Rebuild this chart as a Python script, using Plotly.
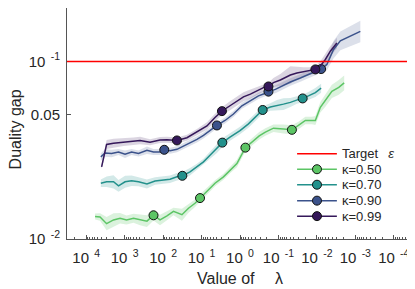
import numpy as np
import plotly.graph_objects as go

TARGET_EPS = 0.1
kappa_labels = ["κ=0.50", "κ=0.70", "κ=0.90", "κ=0.99"]
legend_labels = ["Target \u2002<i>ε</i>"] + kappa_labels
colors = ["#5cc565", "#23918c", "#3b528b", "#35185a"]
band_colors = ["rgba(92,197,101,0.22)", "rgba(35,145,140,0.20)",
               "rgba(59,82,139,0.18)", "rgba(53,24,90,0.18)"]

# log10(lambda), duality gap, band half-width (x/÷)
lam_exp_050 = [3.77, 3.64, 3.47, 3.29, 3.12, 2.95, 2.77, 2.60, 2.42, 2.25, 2.08, 1.90, 1.73,
               1.51, 1.34, 1.17, 1.04, 0.82, 0.65, 0.43, 0.26, 0.08, -0.14, -0.35, -0.50,
               -0.66, -0.87, -1.13, -1.35, -1.52, -1.70, -1.87, -1.96, -2.09, -2.22, -2.39,
               -2.57, -2.71]
gap_050 = [0.0134, 0.0133, 0.0122, 0.0128, 0.0131, 0.0128, 0.0131, 0.0128, 0.0126, 0.0136,
           0.0128, 0.0135, 0.0143, 0.0137, 0.0149, 0.0159, 0.0170, 0.0189, 0.0206, 0.0224,
           0.0244, 0.0266, 0.0327, 0.0359, 0.0381, 0.0400, 0.0421, 0.0417, 0.0412, 0.0436,
           0.0465, 0.0465, 0.0465, 0.0552, 0.0600, 0.0679, 0.0714, 0.0757]
spread_050 = [1.04, 1.05, 1.09, 1.09, 1.07, 1.06, 1.06, 1.07, 1.08, 1.07, 1.07, 1.06, 1.05,
              1.08, 1.06, 1.05, 1.05, 1.05, 1.04, 1.04, 1.04, 1.05, 1.05, 1.05, 1.05, 1.05,
              1.05, 1.06, 1.06, 1.05, 1.05, 1.05, 1.06, 1.07, 1.08, 1.09, 1.10, 1.10]
marker_exp_050 = [2.25, 1.04, -0.14, -1.35]

lam_exp_070 = [3.62, 3.47, 3.29, 3.16, 2.99, 2.82, 2.64, 2.42, 2.21, 1.99, 1.82, 1.64, 1.50,
               1.30, 1.12, 0.95, 0.78, 0.60, 0.46, 0.26, 0.00, -0.22, -0.40, -0.59, -0.79,
               -0.96, -1.13, -1.31, -1.48, -1.63, -1.78, -1.96, -2.11]
gap_070 = [0.0206, 0.0210, 0.0210, 0.0199, 0.0210, 0.0213, 0.0210, 0.0204, 0.0212, 0.0215,
           0.0217, 0.0224, 0.0227, 0.0239, 0.0255, 0.0272, 0.0296, 0.0323, 0.0349, 0.0375,
           0.0408, 0.0445, 0.0485, 0.0533, 0.0554, 0.0567, 0.0575, 0.0588, 0.0606, 0.0619,
           0.0640, 0.0668, 0.0707]
spread_070 = [1.05, 1.07, 1.09, 1.08, 1.08, 1.07, 1.06, 1.06, 1.05, 1.05, 1.05, 1.05, 1.05,
              1.05, 1.04, 1.04, 1.05, 1.06, 1.06, 1.05, 1.05, 1.05, 1.05, 1.05, 1.05, 1.07,
              1.08, 1.06, 1.05, 1.05, 1.05, 1.06, 1.06]
marker_exp_070 = [1.50, 0.46, -0.59, -1.63]

lam_exp_090 = [3.62, 3.51, 3.34, 3.16, 2.99, 2.82, 2.64, 2.42, 2.25, 2.08, 1.97, 1.82, 1.64,
               1.47, 1.30, 1.12, 0.95, 0.78, 0.60, 0.39, 0.17, -0.05, -0.27, -0.48, -0.61,
               -0.74, -0.92, -1.05, -1.31, -1.57, -1.83, -2.11, -2.26, -2.43, -2.61, -2.87,
               -3.13]
gap_090 = [0.0290, 0.0305, 0.0303, 0.0309, 0.0300, 0.0309, 0.0303, 0.0316, 0.0309, 0.0309,
           0.0318, 0.0314, 0.0320, 0.0333, 0.0348, 0.0364, 0.0383, 0.0408, 0.0436, 0.0465,
           0.0506, 0.0563, 0.0600, 0.0640, 0.0655, 0.0676, 0.0696, 0.0719, 0.0766, 0.0807,
           0.0849, 0.0906, 0.0962, 0.1164, 0.1306, 0.1384, 0.1476]
spread_090 = [1.05, 1.05, 1.05, 1.04, 1.05, 1.04, 1.04, 1.05, 1.04, 1.04, 1.04, 1.04, 1.04,
              1.04, 1.04, 1.04, 1.04, 1.04, 1.04, 1.04, 1.04, 1.04, 1.04, 1.04, 1.04, 1.04,
              1.05, 1.05, 1.05, 1.05, 1.05, 1.05, 1.08, 1.12, 1.13, 1.14, 1.15]
marker_exp_090 = [1.97, 0.60, -0.74, -2.11]

lam_exp_099 = [3.60, 3.47, 3.29, 3.03, 2.77, 2.60, 2.34, 2.08, 1.90, 1.64, 1.38, 1.12, 0.86,
               0.65, 0.47, 0.26, 0.08, -0.09, -0.27, -0.44, -0.61, -0.74, -0.87, -1.05,
               -1.31, -1.48, -1.65, -1.83, -1.96, -2.09, -2.22, -2.35, -2.52]
gap_099 = [0.0255, 0.0341, 0.0346, 0.0351, 0.0355, 0.0359, 0.0351, 0.0361, 0.0362, 0.0359,
           0.0372, 0.0400, 0.0433, 0.0483, 0.0525, 0.0563, 0.0600, 0.0632, 0.0655, 0.0683,
           0.0712, 0.0723, 0.0760, 0.0786, 0.0839, 0.0861, 0.0875, 0.0883, 0.0902, 0.0942,
           0.1026, 0.1142, 0.1270]
spread_099 = [1.03, 1.06, 1.06, 1.05, 1.05, 1.05, 1.04, 1.04, 1.04, 1.04, 1.04, 1.04, 1.05,
              1.05, 1.05, 1.06, 1.06, 1.06, 1.06, 1.05, 1.05, 1.05, 1.06, 1.08, 1.12, 1.08,
              1.06, 1.05, 1.05, 1.06, 1.07, 1.07, 1.07]
marker_exp_099 = [1.64, 0.47, -0.74, -1.96]

x_tick_exps = [4, 3, 2, 1, 0, -1, -2, -3, -4]
y_tick_vals = [0.01, 0.05, 0.1, 0.2]
y_tick_text = ["10<sup>\u2002-2</sup>", "0.05", "10<sup>\u2002-1</sup>", "0.2"]

series = [
    (lam_exp_050, gap_050, spread_050, marker_exp_050),
    (lam_exp_070, gap_070, spread_070, marker_exp_070),
    (lam_exp_090, gap_090, spread_090, marker_exp_090),
    (lam_exp_099, gap_099, spread_099, marker_exp_099),
]

FONT = "Liberation Sans, Arial, Helvetica, sans-serif"
TXT = "#262626"
AX = "#555555"

fig = go.Figure()

for i, (le, g, s, me) in enumerate(series):
    lam = 10.0 ** np.array(le)
    g = np.array(g)
    s = np.array(s)
    fig.add_trace(go.Scatter(x=lam, y=g * s, mode="lines", line=dict(width=0),
                             showlegend=False, hoverinfo="skip"))
    fig.add_trace(go.Scatter(x=lam, y=g / s, mode="lines", line=dict(width=0),
                             fill="tonexty", fillcolor=band_colors[i],
                             showlegend=False, hoverinfo="skip"))

for i, (le, g, s, me) in enumerate(series):
    lam = 10.0 ** np.array(le)
    g = np.array(g)
    fig.add_trace(go.Scatter(x=lam, y=g, mode="lines",
                             line=dict(color=colors[i], width=1.5), showlegend=False))
    idx = [le.index(m) for m in me]
    fig.add_trace(go.Scatter(x=lam[idx], y=g[idx], mode="markers",
                             marker=dict(color=colors[i], size=9,
                                         line=dict(color="#111111", width=1)),
                             showlegend=False))

fig.add_hline(y=TARGET_EPS, line=dict(color="#ff0000", width=1.5))

# hand-built legend (compact row spacing as in the original)
leg_rows = [0.369, 0.302, 0.235, 0.166, 0.099]
leg_x0, leg_x1, leg_xm, leg_xt = 0.665, 0.780, 0.7225, 0.789
leg_colors = ["#ff0000"] + colors
for r, (yy, col, lab) in enumerate(zip(leg_rows, leg_colors, legend_labels)):
    fig.add_shape(type="line", xref="paper", yref="paper", x0=leg_x0, x1=leg_x1,
                  y0=yy, y1=yy, line=dict(color=col, width=1.3 if r == 0 else 1.5))
    if r > 0:
        fig.add_shape(type="circle", xref="paper", yref="paper",
                      xsizemode="pixel", ysizemode="pixel",
                      xanchor=leg_xm, yanchor=yy, x0=-4.5, x1=4.5, y0=-4.5, y1=4.5,
                      fillcolor=col, line=dict(color="#111111", width=1))
    fig.add_annotation(x=leg_xt, y=yy, xref="paper", yref="paper", text=lab,
                       showarrow=False, xanchor="left", yanchor="middle",
                       font=dict(size=13, color=TXT))

# axis titles
fig.add_annotation(x=-0.150, y=0.475, xref="paper", yref="paper", text="Duality gap",
                   textangle=-90, showarrow=False, xanchor="center", yanchor="middle",
                   font=dict(size=16, color=TXT))
fig.add_annotation(x=0.50, y=-0.17, xref="paper", yref="paper",
                   text="Value of \u2003λ", showarrow=False,
                   xanchor="center", yanchor="middle", font=dict(size=16, color=TXT))

fig.update_layout(
    width=415, height=289,
    margin=dict(l=59, r=10, t=0, b=57.5, autoexpand=False),
    paper_bgcolor="white", plot_bgcolor="white",
    font=dict(family=FONT, size=15, color=TXT),
    showlegend=False,
    xaxis=dict(type="log", range=[4.5, -4.5], showgrid=False, zeroline=False,
               automargin=False,
               showline=True, linecolor=AX, linewidth=1,
               ticks="inside", ticklen=4, tickcolor=AX,
               tickvals=[10.0 ** e for e in x_tick_exps],
               ticktext=["10<sup>\u2002%d</sup>" % e for e in x_tick_exps],
               ticklabelstandoff=5,
               minor=dict(ticks="inside", ticklen=2, tickcolor=AX, dtick="D1")),
    yaxis=dict(type="log", range=[-2, np.log10(0.2)], showgrid=False, zeroline=False,
               automargin=False,
               showline=True, linecolor=AX, linewidth=1,
               ticks="inside", ticklen=4, tickcolor=AX,
               tickvals=y_tick_vals, ticktext=y_tick_text,
               ticklabelstandoff=3),
)

fig.write_html("out.html")
